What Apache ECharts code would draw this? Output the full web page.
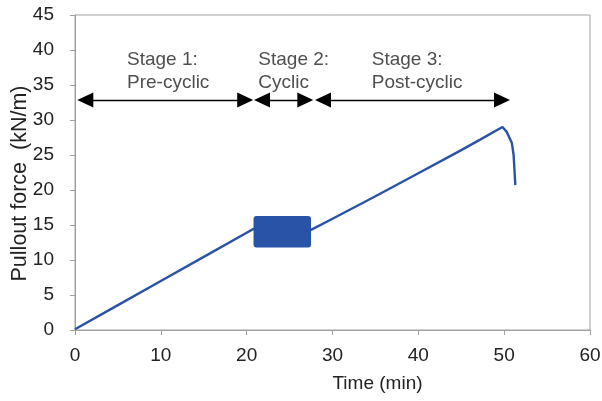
<!DOCTYPE html>
<html><head><meta charset="utf-8">
<script src="https://cdn.jsdelivr.net/npm/echarts@6/dist/echarts.min.js"></script>
<style>html,body{margin:0;padding:0;background:#fff}#c{width:602px;height:401px}</style>
</head><body><div id="c"></div>
<script>
// ---- data ----
const preTime  = [0, 5, 10, 15, 20, 20.8];
const preForce = [0.1, 3.55, 7.0, 10.45, 13.9, 14.45];
const postTime  = [27.5, 30, 35, 40, 45, 47.2, 49.8, 50.3, 50.9, 51.1, 51.2, 51.3];
const postForce = [14.3, 15.9, 19.1, 22.4, 25.7, 27.2, 29.0, 28.3, 26.7, 25.0, 22.9, 20.7];
// cyclic stage envelope: start time, end time, min force, max force
const cyclicBand = [20.8, 27.5, 11.8, 16.3];
const stageNames = ['Stage 1:\nPre-cyclic', 'Stage 2:\nCyclic', 'Stage 3:\nPost-cyclic'];
// arrow shaft ends (arrow heads extend beyond these)
const stageFrom = [1.2, 21.79, 28.89];
const stageTo   = [19.83, 26.83, 49.75];
const stageLabelX = [6.06, 21.36, 34.57];
const stageLabelY = 36.9;
const arrowY = 32.85;
const xAxisRange = [0, 60, 10];
const yAxisRange = [0, 45, 5];

// ---- chart ----
const FONT = "'Liberation Sans', Arial, sans-serif";
const TXT = '#222222';
const AX = '#a0a0a0';
const BLUE = '#2953a7';

const lineData = preTime.map((t, i) => [t, preForce[i]])
  .concat(postTime.map((t, i) => [t, postForce[i]]));

const chart = echarts.init(document.getElementById('c'), null, {renderer: 'canvas'});
chart.setOption({
  animation: false,
  backgroundColor: '#fff',
  textStyle: {fontFamily: FONT},
  grid: {left: 75, right: 12, top: 15, bottom: 71, show: true, borderColor: AX, borderWidth: 1,
         containLabel: false, outerBoundsMode: 'none'},
  xAxis: {
    type: 'value', min: xAxisRange[0], max: xAxisRange[1], interval: xAxisRange[2],
    name: 'Time (min)', nameLocation: 'middle', nameGap: 44, nameMoveOverlap: false,
    nameTextStyle: {fontFamily: FONT, fontSize: 19, color: TXT, padding: [0, 0, 0, 90]},
    axisLine: {show: true, lineStyle: {color: AX, width: 1}},
    axisTick: {show: true, inside: false, length: 5, lineStyle: {color: AX}},
    axisLabel: {fontFamily: FONT, fontSize: 19, color: TXT, margin: 16},
    splitLine: {show: false}
  },
  yAxis: {
    type: 'value', min: yAxisRange[0], max: yAxisRange[1], interval: yAxisRange[2],
    name: 'Pullout force  (kN/m)', nameLocation: 'middle', nameGap: 44, nameRotate: 90, nameMoveOverlap: false,
    nameTextStyle: {fontFamily: FONT, fontSize: 21.5, color: TXT, padding: [0, 22, 0, 0]},
    axisLine: {show: true, lineStyle: {color: AX, width: 1}},
    axisTick: {show: true, inside: false, length: 5, lineStyle: {color: AX}},
    axisLabel: {fontFamily: FONT, fontSize: 19, color: TXT, margin: 21},
    splitLine: {show: false}
  },
  series: [
    {
      type: 'line', data: lineData, showSymbol: false, symbol: 'none',
      lineStyle: {color: BLUE, width: 2.4}, z: 2, silent: true,
      markLine: {
        silent: true, animation: false,
        symbol: ['triangle', 'triangle'], symbolSize: [15, 16],
        label: {show: false},
        lineStyle: {color: '#000', width: 1.4, type: 'solid'},
        emphasis: {disabled: true},
        data: stageFrom.map((f, i) => [{coord: [f, arrowY]}, {coord: [stageTo[i], arrowY]}])
      }
    },
    {
      type: 'custom', z: 3, silent: true,
      data: [cyclicBand],
      encode: {x: [0, 1], y: [2, 3]},
      renderItem: function (params, api) {
        const p0 = api.coord([api.value(0), api.value(3)]);
        const p1 = api.coord([api.value(1), api.value(2)]);
        return {type: 'rect', shape: {x: p0[0], y: p0[1], width: p1[0] - p0[0], height: p1[1] - p0[1], r: 3},
                style: {fill: BLUE}};
      }
    },
    {
      type: 'scatter', symbolSize: 0, silent: true, z: 4,
      data: stageLabelX.map((x, i) => [x, stageLabelY, stageNames[i]]),
      label: {show: true, position: [0, 0], align: 'left', verticalAlign: 'middle',
              formatter: p => p.value[2], fontFamily: FONT, fontSize: 19, lineHeight: 23, color: TXT}
    }
  ]
});
</script></body></html>
